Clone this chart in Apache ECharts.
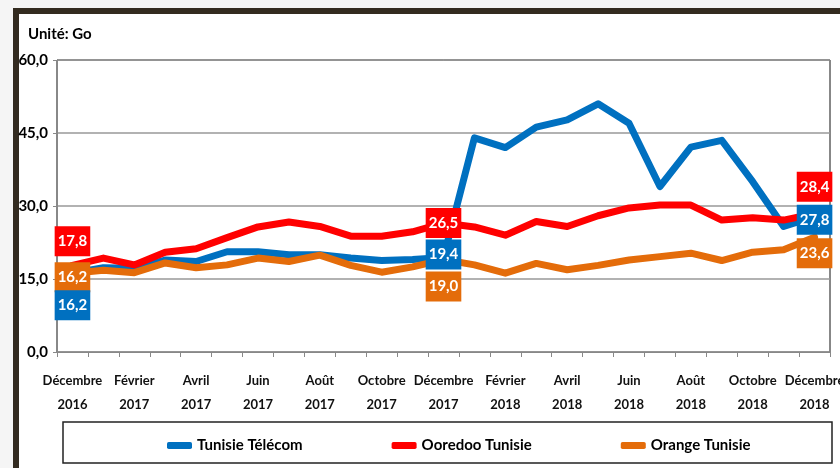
<!DOCTYPE html>
<html>
<head>
<meta charset="utf-8">
<script src="https://cdn.jsdelivr.net/npm/echarts@6/dist/echarts.min.js"></script>
<style>
  html, body { margin: 0; padding: 0; background: #f5f5f5; }
  #chart { width: 840px; height: 468px; }
</style>
</head>
<body>
<div id="chart"></div>
<script>
// months, Dec 2016 -> Dec 2018
const months = [
  "Décembre\n2016", "Janvier\n2017", "Février\n2017", "Mars\n2017", "Avril\n2017",
  "Mai\n2017", "Juin\n2017", "Juillet\n2017", "Août\n2017", "Septembre\n2017",
  "Octobre\n2017", "Novembre\n2017", "Décembre\n2017", "Janvier\n2018", "Février\n2018",
  "Mars\n2018", "Avril\n2018", "Mai\n2018", "Juin\n2018", "Juillet\n2018",
  "Août\n2018", "Septembre\n2018", "Octobre\n2018", "Novembre\n2018", "Décembre\n2018"
];
const tunisieTelecom = [16.2, 17.3, 17.2, 18.9, 18.6, 20.6, 20.6, 20.0, 20.0, 19.3, 18.8, 19.0, 19.4,
  44.0, 42.0, 46.2, 47.7, 51.0, 47.0, 34.0, 42.1, 43.5, 35.0, 25.8, 27.8];
const ooredoo = [17.8, 19.3, 17.9, 20.5, 21.2, 23.5, 25.7, 26.7, 25.8, 23.8, 23.8, 24.7, 26.5,
  25.7, 24.0, 26.8, 25.8, 28.0, 29.6, 30.2, 30.2, 27.1, 27.6, 27.1, 28.4];
const orangeTn = [16.2, 16.8, 16.3, 18.3, 17.3, 17.9, 19.3, 18.6, 19.9, 17.8, 16.4, 17.5, 19.0,
  17.9, 16.2, 18.2, 16.9, 17.8, 18.9, 19.6, 20.3, 18.8, 20.5, 21.0, 23.6];
const labelled = [0, 12, 24];   // the three Decembers carry value boxes
const yTicks = [0, 15, 30, 45, 60];

// Lato is the closest installed face to the Calibri of the original
const font = "Lato, 'Liberation Sans', sans-serif";
const fmt = v => v.toFixed(1).replace(".", ",");

function lineSeries(name, values, color) {
  return {
    name: name,
    type: "line",
    data: values,
    showSymbol: false,
    z: 2,
    itemStyle: { color: color },
    lineStyle: { color: color, width: 7, cap: "round", join: "round" },
    emphasis: { disabled: true }
  };
}

// value boxes in their own series so they sit above every line
function boxSeries(values, color, offsets) {
  return {
    type: "scatter",
    symbolSize: 0,
    z: 10,
    silent: true,
    itemStyle: { color: color, opacity: 1 },
    data: labelled.map((i, k) => ({
      value: [i, values[i]],
      label: { offset: [0, offsets[k]] }
    })),
    label: {
      show: true,
      position: "inside",
      formatter: p => fmt(p.value[1]),
      backgroundColor: color,
      color: "#fff",
      opacity: 1,
      fontWeight: "bold",
      fontSize: 15,
      fontFamily: font,
      padding: [8, 3, 7, 3]
    }
  };
}

const chart = echarts.init(document.getElementById("chart"));
chart.setOption({
  animation: false,
  backgroundColor: "transparent",
  textStyle: { fontFamily: font },
  graphic: [
    {
      type: "rect", z: -10, silent: true,
      shape: { x: 16, y: 11, width: 840, height: 480 },
      style: { fill: "#fff", stroke: "#332b20", lineWidth: 6 }
    },
    {
      type: "rect", z: 5, silent: true,
      shape: { x: 63, y: 422, width: 769, height: 41 },
      style: { fill: "none", stroke: "#222", lineWidth: 1.5 }
    },
    {
      type: "text", left: 28, top: 27,
      style: { text: "Unité: Go", font: "bold 15px " + font, fill: "#000" }
    }
  ],
  grid: {
    left: 57, right: 10, top: 60, bottom: 116,
    outerBoundsMode: "none",
    containLabel: false,
    show: true, borderColor: "#111", borderWidth: 1
  },
  legend: {
    top: 433,
    left: 162,
    itemGap: 89,
    itemWidth: 25,
    itemHeight: 7,
    icon: "roundRect",
    textStyle: { fontWeight: "bold", fontSize: 15, fontFamily: font, color: "#000" },
    data: ["Tunisie Télécom", "Ooredoo Tunisie", "Orange Tunisie"]
  },
  xAxis: {
    type: "category",
    data: months,
    boundaryGap: true,
    axisLine: { lineStyle: { color: "#888" } },
    axisTick: { show: true, interval: 0, length: 5, lineStyle: { color: "#888" } },
    axisLabel: {
      interval: 1,
      margin: 17,
      color: "#111",
      fontWeight: "bold",
      fontSize: 13,
      lineHeight: 24,
      fontFamily: font
    }
  },
  yAxis: {
    type: "value",
    min: yTicks[0],
    max: yTicks[yTicks.length - 1],
    interval: 15,
    axisLine: { show: true, lineStyle: { color: "#888" } },
    axisTick: { show: true, length: 4, lineStyle: { color: "#888" } },
    splitLine: { lineStyle: { color: "#999", width: 1.5 } },
    axisLabel: {
      formatter: fmt,
      margin: 9,
      color: "#000",
      fontWeight: "bold",
      fontSize: 15,
      fontFamily: font
    }
  },
  series: [
    lineSeries("Tunisie Télécom", tunisieTelecom, "#0070c0"),
    lineSeries("Ooredoo Tunisie", ooredoo, "#ff0000"),
    lineSeries("Orange Tunisie", orangeTn, "#e46c0a"),
    boxSeries(ooredoo, "#ff0000", [-24, 0, -27]),
    boxSeries(orangeTn, "#e46c0a", [4, 27, 16]),
    boxSeries(tunisieTelecom, "#0070c0", [32, -3, 3])
  ]
});
</script>
</body>
</html>
